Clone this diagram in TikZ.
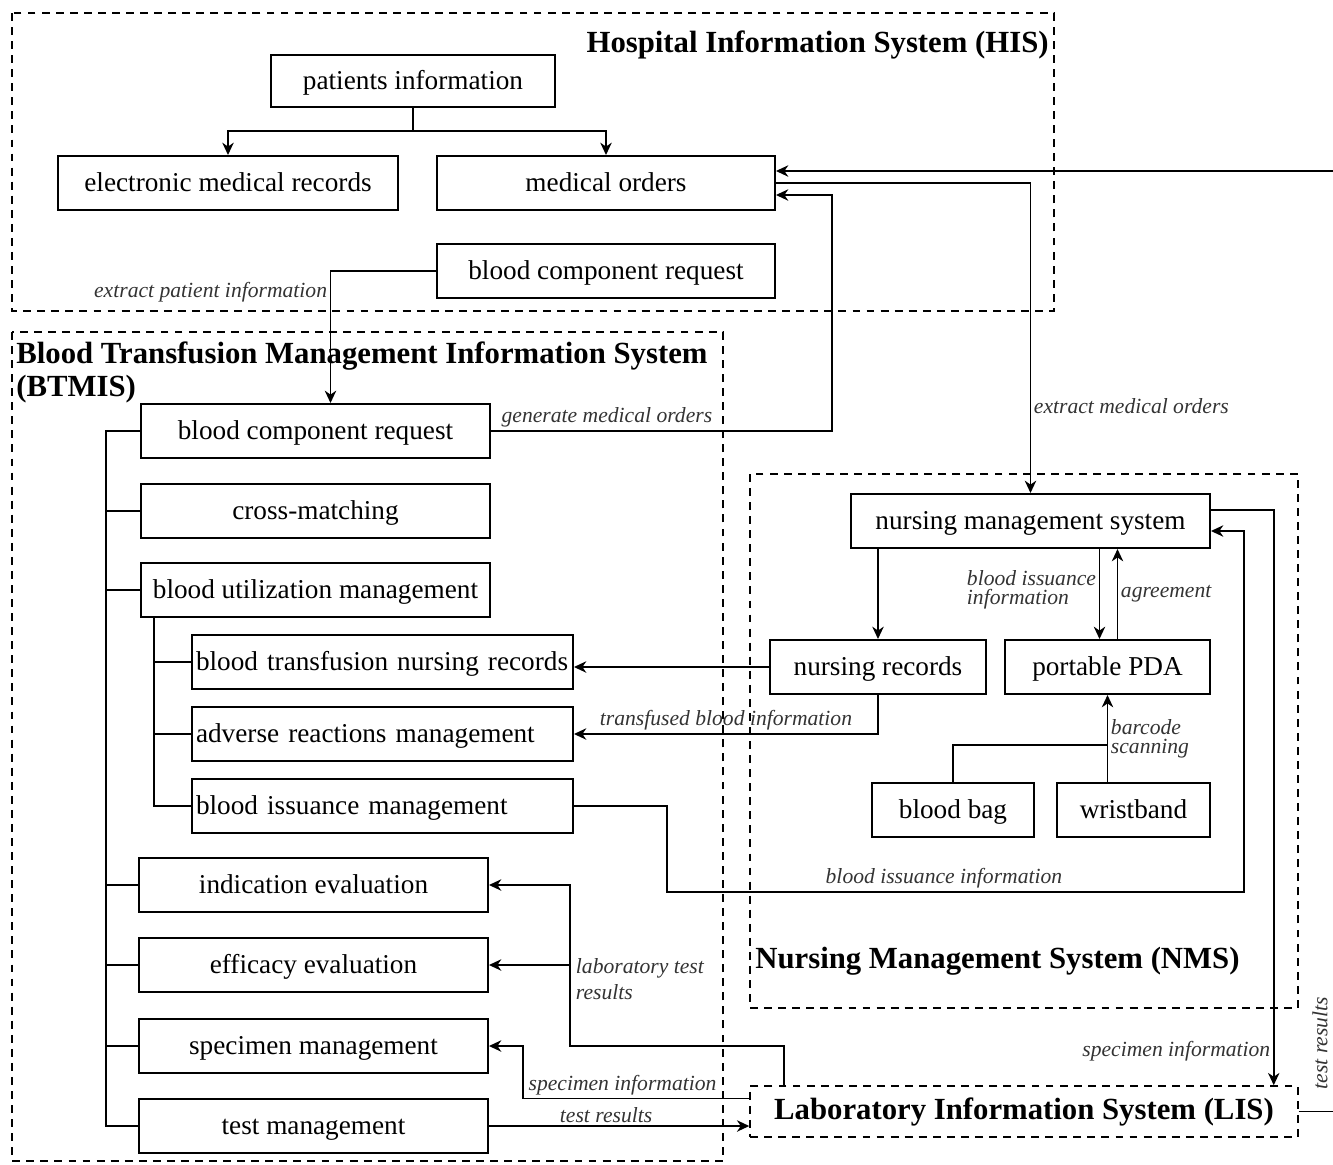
\documentclass[tikz,border=0pt]{standalone}
\usepackage{fontspec}
\setmainfont{Liberation Serif}
\usepackage{tikz}
\usetikzlibrary{arrows.meta,calc}

\begin{document}
\begin{tikzpicture}[x=0.02cm,y=-0.02cm,>={Stealth[length=7pt,width=6.5pt,inset=2.2pt]}]
% --- styles ---------------------------------------------------
\tikzstyle{box}     =[draw,line width=1.15pt,minimum height=1.08cm,inner sep=2pt,text height=12pt,text depth=1.8pt,font=\fontsize{15.5}{18}\selectfont]
\tikzstyle{subbox}  =[box,minimum width=7.62cm,text width=7.46cm,align=left]
\tikzstyle{frame}   =[line width=0.9pt,dash pattern=on 4.5pt off 3.5pt]
\tikzstyle{systitle}=[inner sep=0pt,font=\fontsize{17.5}{19}\selectfont\bfseries]
\tikzstyle{lbl}     =[inner sep=1.5pt,font=\fontsize{12.3}{11}\selectfont\itshape,text=black!80]
\tikzstyle{link}    =[line width=0.95pt]
\tikzstyle{flow}    =[line width=0.95pt,->]

\useasboundingbox (0,0) rectangle (1333,1164);

% --- system frames --------------------------------------------
\draw[frame] (12,13) rectangle (1054,311);     % HIS
\draw[frame] (12,332) rectangle (723,1161);    % BTMIS
\draw[frame] (750,474) rectangle (1298,1008);  % NMS

\node[systitle,anchor=east] (histitle) at (1049,45) {Hospital Information System (HIS)};
\node[systitle,anchor=north west,align=left] (btmistitle) at (16,341) {Blood Transfusion Management Information System\\(BTMIS)};
\node[systitle,anchor=west] (nmstitle) at (755,961) {Nursing Management System (NMS)};
\node[draw,frame,systitle,minimum width=10.96cm,minimum height=1.02cm] (lis) at (1024,1111.5) {Laboratory Information System (LIS)};

% --- HIS boxes ------------------------------------------------
\node[box,minimum width=5.68cm,minimum height=1.04cm] (pinfo) at (413,81) {patients information};
\node[box,minimum width=6.8cm] (emr) at (228,183) {electronic medical records};
\node[box,minimum width=6.76cm] (morders) at (606,183) {medical orders};
\node[box,minimum width=6.76cm] (hisreq) at (606,271) {blood component request};

% --- BTMIS boxes ----------------------------------------------
\node[box,minimum width=6.98cm] (btreq) at (315.5,431) {blood component request};
\node[box,minimum width=6.98cm] (xmatch) at (315.5,511) {cross-matching};
\node[box,minimum width=6.98cm] (utilmgmt) at (315.5,590) {blood utilization management};
\node[subbox] (nursrec) at (382.5,662) {\mbox{blood transfusion nursing records}};
\node[subbox] (adverse) at (382.5,734) {adverse reactions management};
\node[subbox] (issue) at (382.5,806) {blood issuance management};
\node[box,minimum width=6.98cm] (indic) at (313.5,885) {indication evaluation};
\node[box,minimum width=6.98cm] (efficacy) at (313.5,965) {efficacy evaluation};
\node[box,minimum width=6.98cm] (specimen) at (313.5,1046) {specimen management};
\node[box,minimum width=6.98cm] (testmgmt) at (313.5,1126) {test management};

% --- NMS boxes ------------------------------------------------
\node[box,minimum width=7.18cm] (nms) at (1030.5,521) {nursing management system};
\node[box,minimum width=4.32cm] (nmsrec) at (878,667) {nursing records};
\node[box,minimum width=4.1cm] (pda) at (1107.5,667) {portable PDA};
\node[box,minimum width=3.24cm] (bag) at (953,810) {blood bag};
\node[box,minimum width=3.06cm] (wrist) at (1133.5,810) {wristband};

% --- HIS links ------------------------------------------------
\draw[link] (pinfo.south) -- ++(0,23) coordinate (fork);
\draw[flow] (fork) -| (emr.north);
\draw[flow] (fork) -| (morders.north);
\draw[flow] (hisreq.west) -| ($(btreq.north)+(15,0)$)
  node[lbl,pos=0.58,left] {extract patient information};
\draw[flow] (btreq.east) -| ($(morders.east)+(56,12)$)
  node[lbl,pos=0.17,above] {generate medical orders} -- ($(morders.east)+(0,12)$);
\draw[flow] (morders.east) -| (nms.north)
  node[lbl,pos=0.86,right] {extract medical orders};
\draw[flow] (lis.east) -- ++(40,0) |- ($(morders.east)+(0,-12)$);
\node[lbl,rotate=90] (testres) at (1320,1043) {test results};

% --- BTMIS tree -----------------------------------------------
\draw[link] (btreq.west) -- ++(-34,0) coordinate (bus) |- (testmgmt.west);
\foreach \n in {xmatch,utilmgmt,indic,efficacy,specimen}
  \draw[link] (bus |- \n.west) -- (\n.west);
\draw[link] ($(utilmgmt.south west)+(14,0)$) coordinate (subbus) |- (issue.west);
\foreach \n in {nursrec,adverse}
  \draw[link] (subbus |- \n.west) -- (\n.west);

% --- NMS links ------------------------------------------------
\draw[flow] (nms.south -| nmsrec.north) -- (nmsrec.north);
\draw[flow] ($(nms.south -| pda.north)+(-8,0)$) -- ($(pda.north)+(-8,0)$)
  node[lbl,pos=0.45,left,align=left] {blood issuance\\information};
\draw[flow] ($(pda.north)+(10,0)$) -- ($(nms.south -| pda.north)+(10,0)$)
  node[lbl,midway,right] {agreement};
\draw[link] (bag.north) |- ($(pda.south)+(0,50)$);
\draw[flow] (wrist.north -| pda.south) -- (pda.south)
  node[lbl,midway,right,align=left] {barcode\\scanning};
\draw[flow] (nmsrec.west) -- (nmsrec.west -| nursrec.east);
\draw[flow] (nmsrec.south) |- (adverse.east)
  node[lbl,pos=0.75,above] {transfused blood information};
\draw[flow] (issue.east) -- ++(93,0) |- ($(nms.east)+(33,371)$)
  node[lbl,pos=0.74,above] {blood issuance information} |- ($(nms.east)+(0,10)$);
\draw[flow] ($(nms.east)+(0,-11)$) -| ($(lis.north east)+(-25,0)$)
  node[lbl,pos=0.97,left] {specimen information};

% --- LIS links ------------------------------------------------
\draw[flow] (testmgmt.east) -- (testmgmt.east -| lis.west)
  node[lbl,pos=0.45,above] {test results};
\draw[flow] ($(lis.west)+(0,-13)$) -| ($(specimen.east)+(34,0)$)
  node[lbl,pos=0.28,above] {specimen information} -- (specimen.east);
\draw[flow] ($(lis.north west)+(35,0)$) |- ($(indic.east)+(81,161)$) |- (indic.east);
\draw[flow] ($(efficacy.east)+(81,0)$) -- (efficacy.east);
\node[lbl,anchor=north west,align=left,font=\fontsize{12.3}{14.8}\selectfont\itshape] (labres) at (573,956) {laboratory test\\results};

\end{tikzpicture}
\end{document}
